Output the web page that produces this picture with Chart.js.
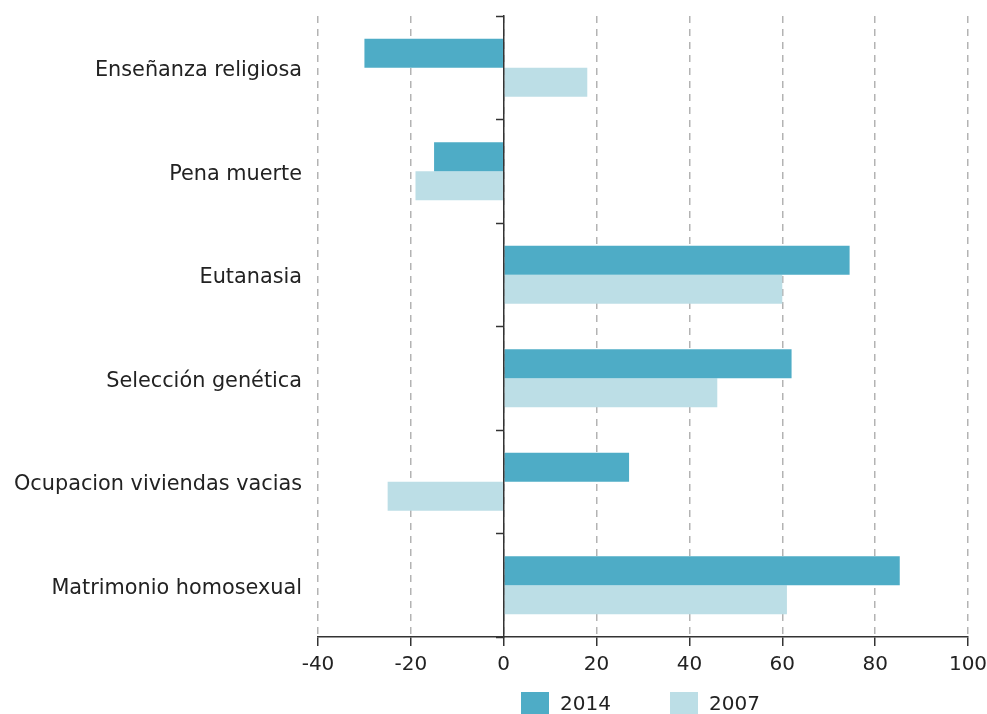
<!DOCTYPE html>
<html>
<head>
<meta charset="utf-8">
<script src="https://cdn.jsdelivr.net/npm/chart.js@4.4.0/dist/chart.umd.min.js"></script>
<style>
  html, body { margin: 0; padding: 0; background: #fff; }
  .wrap { position: relative; width: 987px; height: 714px; overflow: hidden; }
  .legend { position: absolute; top: 692px; left: 0; width: 987px; height: 22px; font-family: "DejaVu Sans", sans-serif; font-size: 20px; color: #222; }
  .legend .item { position: absolute; top: 0; height: 22px; line-height: 22px; }
  .legend .box { position: absolute; top: 0; left: 0; width: 28px; height: 22px; }
  .legend .txt { position: absolute; left: 39px; top: 0px; white-space: nowrap; }
</style>
</head>
<body>
<div class="wrap">
  <canvas id="chart" width="987" height="714"></canvas>
  <div class="legend" id="legend"></div>
</div>
<script>
const categories = [
  "Enseñanza religiosa",
  "Pena muerte",
  "Eutanasia",
  "Selección genética",
  "Ocupacion viviendas vacias",
  "Matrimonio homosexual"
];
const seriesNames = ["2014", "2007"];
const values2014 = [-30, -15, 74.5, 62, 27, 85.3];
const values2007 = [18, -19, 60, 46, -25, 61];
const colors = ["#4eacc6", "#bcdee6"];
const xTicks = [-40, -20, 0, 20, 40, 60, 80, 100];

const labelFont = { family: "'DejaVu Sans', sans-serif", size: 20.8 };
const tickFont = { family: "'DejaVu Sans', sans-serif", size: 20 };

const ctx = document.getElementById("chart").getContext("2d");
new Chart(ctx, {
  type: "bar",
  data: {
    labels: categories,
    datasets: [
      { label: seriesNames[0], data: values2014, backgroundColor: colors[0] },
      { label: seriesNames[1], data: values2007, backgroundColor: colors[1] }
    ]
  },
  options: {
    indexAxis: "y",
    responsive: false,
    animation: false,
    barPercentage: 1,
    categoryPercentage: 0.56,
    layout: { padding: { top: 16, right: 19, bottom: 0, left: 0 } },
    plugins: {
      legend: { display: false },
      tooltip: { enabled: false }
    },
    scales: {
      x: {
        type: "linear",
        min: xTicks[0],
        max: xTicks[xTicks.length - 1],
        afterBuildTicks: (scale) => { scale.ticks = xTicks.map((v) => ({ value: v })); },
        afterFit: (scale) => {
          scale.height = 714 - 637;
          scale.paddingLeft = 0;
          scale.paddingRight = 0;
        },
        ticks: {
          font: tickFont,
          color: "#222",
          padding: 7,
          maxRotation: 0,
          callback: (v) => String(v)
        },
        grid: {
          color: "#b3b3b3",
          lineWidth: 1.5,
          tickColor: "#333",
          tickLength: 9,
          tickWidth: 1.5,
          tickBorderDash: []
        },
        border: { display: true, color: "#333", width: 1.5, dash: [7, 6] }
      },
      y: {
        type: "category",
        afterFit: (scale) => {
          scale.width = 318;
          scale.paddingTop = 0;
          scale.paddingBottom = 0;
        },
        ticks: { font: labelFont, color: "#222", padding: 16, labelOffset: 3 },
        grid: { display: false, drawTicks: false },
        border: { display: false }
      },
      y2: {
        type: "category",
        axis: "y",
        position: { x: 0 },
        offset: true,
        ticks: { display: false },
        grid: {
          offset: true,
          drawOnChartArea: false,
          drawTicks: true,
          tickLength: 7,
          tickWidth: 1.5,
          tickColor: "#333",
          color: "#333"
        },
        border: { display: true, color: "#333", width: 1.5, z: 1 }
      }
    }
  }
});

// legend below the chart
const legendEl = document.getElementById("legend");
const legendLeft = [521, 670];
seriesNames.forEach((name, i) => {
  const item = document.createElement("div");
  item.className = "item";
  item.style.left = legendLeft[i] + "px";
  item.innerHTML = '<span class="box" style="background:' + colors[i] + '"></span><span class="txt">' + name + "</span>";
  legendEl.appendChild(item);
});
</script>
</body>
</html>
